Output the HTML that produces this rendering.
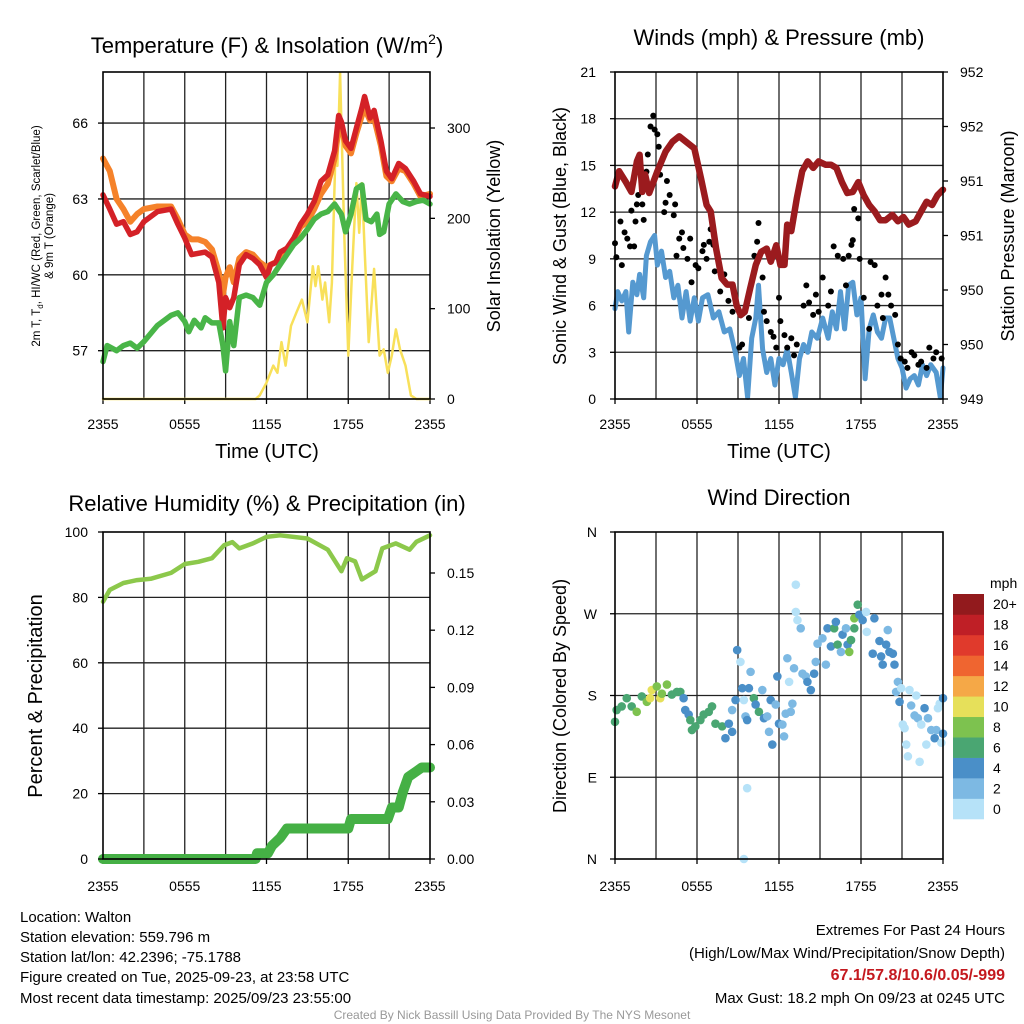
<!DOCTYPE html>
<html><head><meta charset="utf-8">
<style>
html,body{margin:0;padding:0;background:#fff;}
svg{display:block;font-family:"Liberation Sans",Arial,sans-serif;}
</style></head>
<body>
<svg id="chart" width="1024" height="1024" viewBox="0 0 1024 1024" xmlns="http://www.w3.org/2000/svg">
<rect x="0" y="0" width="1024" height="1024" fill="#fff"/>
<text x="267" y="53" font-size="22" text-anchor="middle">Temperature (F) &amp; Insolation (W/m<tspan font-size="14" dy="-9">2</tspan><tspan dy="9">)</tspan></text>
<text x="779" y="45" font-size="22" text-anchor="middle">Winds (mph) &amp; Pressure (mb)</text>
<text x="267" y="511" font-size="22" text-anchor="middle">Relative Humidity (%) &amp; Precipitation (in)</text>
<text x="779" y="505" font-size="22" text-anchor="middle">Wind Direction</text>
<g transform="translate(40,236) rotate(-90)" font-size="11.5" text-anchor="middle">
<text x="0" y="0">2m T, T<tspan font-size="8" dy="3">d</tspan><tspan dy="-3">, HI/WC (Red, Green, Scarlet/Blue)</tspan></text>
<text x="0" y="13">&amp; 9m T (Orange)</text></g>
<text transform="translate(500,236) rotate(-90)" font-size="18" text-anchor="middle">Solar Insolation (Yellow)</text>
<text transform="translate(566,236) rotate(-90)" font-size="18" text-anchor="middle">Sonic Wind &amp; Gust (Blue, Black)</text>
<text transform="translate(1014,236) rotate(-90)" font-size="18" text-anchor="middle">Station Pressure (Maroon)</text>
<text transform="translate(42,696) rotate(-90)" font-size="20" text-anchor="middle">Percent &amp; Precipitation</text>
<text transform="translate(566,696) rotate(-90)" font-size="18" text-anchor="middle">Direction (Colored By Speed)</text>
<text x="267" y="458" font-size="20" text-anchor="middle">Time (UTC)</text>
<text x="779" y="458" font-size="20" text-anchor="middle">Time (UTC)</text>
<g font-size="15">
<text x="20" y="922">Location: Walton</text>
<text x="20" y="942">Station elevation: 559.796 m</text>
<text x="20" y="962">Station lat/lon: 42.2396; -75.1788</text>
<text x="20" y="982">Figure created on Tue, 2025-09-23, at 23:58 UTC</text>
<text x="20" y="1003">Most recent data timestamp: 2025/09/23 23:55:00</text>
</g>
<g font-size="15" text-anchor="end">
<text x="1005" y="935">Extremes For Past 24 Hours</text>
<text x="1005" y="958">(High/Low/Max Wind/Precipitation/Snow Depth)</text>
<text x="1005" y="980" fill="#c4191f" font-weight="bold" font-size="16">67.1/57.8/10.6/0.05/-999</text>
<text x="1005" y="1003">Max Gust: 18.2 mph On 09/23 at 0245 UTC</text>
</g>
<text x="512" y="1019" font-size="12" fill="#999" text-anchor="middle">Created By Nick Bassill Using Data Provided By The NYS Mesonet</text>
</svg>
<script>
// ---- data ----
const xTickLabels=['2355','0555','1155','1755','2355'];
const tempHours=[0,.5,1,1.5,2,2.5,3,4,5,5.5,6,6.5,7,7.5,8,8.5,8.8,9,9.3,9.6,10,10.5,11,11.5,12,12.3,12.7,13,13.5,14,14.5,15,15.5,16,16.5,17,17.3,17.5,17.8,18.2,18.6,19,19.2,19.6,19.9,20.4,20.8,21.2,21.7,22.2,22.8,23.3,24];
const temp2m=[63.16,62.6,62.0,62.1,61.6,61.7,62.1,62.5,62.6,62.0,61.45,60.8,60.85,60.9,60.7,59.7,57.9,59.1,58.7,59.1,60.4,60.8,60.65,60.4,59.9,60.4,60.5,60.9,61.05,61.45,62.0,62.4,62.9,63.7,63.95,64.9,66.3,66.05,65.3,65.0,65.8,66.6,67.05,66.2,66.5,65.3,64.1,63.8,64.4,64.2,63.7,63.2,63.1];
const temp9m=[64.6,64.1,63.0,62.6,62.1,62.4,62.6,62.7,62.7,62.2,61.6,61.4,61.4,61.3,61.0,60.1,59.2,59.9,60.3,59.7,60.65,60.9,60.8,60.5,60.3,60.4,60.5,60.8,61.0,61.4,61.9,62.1,62.6,63.2,63.6,64.6,65.8,65.9,65.1,64.8,65.6,66.3,66.6,66.1,66.2,65.1,63.9,63.7,64.2,64.1,63.6,63.1,63.2];
const dewHours=[0,.3,1,1.5,2,2.5,3,4,5,5.5,6,6.3,6.7,7.2,7.5,8,8.5,8.8,9,9.3,9.6,10,10.5,11,11.5,12,12.5,13,13.5,14,14.5,15,15.5,16,16.5,17,17.5,17.8,18.2,18.6,19,19.3,19.7,20.1,20.3,20.6,21,21.5,22,22.5,23,23.5,24];
const dewpoint=[56.57,57.2,57.0,57.2,57.3,57.1,57.36,58.0,58.4,58.5,58.15,57.75,58.2,57.9,58.3,58.1,58.1,57.2,56.2,58.15,57.2,59.1,59.2,59.1,58.8,59.7,60.0,60.4,60.8,61.2,61.45,61.8,62.2,62.4,62.5,62.8,62.4,61.7,62.4,63.4,63.55,62.2,62.1,62.4,61.6,61.7,62.8,63.2,62.9,62.8,62.9,62.95,62.8];
const solarHours=[0,11.2,11.5,12,12.5,12.8,13.1,13.4,13.8,14.2,14.6,15,15.4,15.6,15.8,16.1,16.3,16.6,16.8,17.1,17.2,17.4,17.7,18.0,18.3,18.6,18.8,19.0,19.2,19.5,19.9,20.3,20.6,20.9,21.2,21.5,21.8,22.2,22.6,23,24];
const solar=[0,0,4,18,37,29,63,37,81,96,110,85,147,125,147,110,129,85,129,295,258,361,184,48,147,239,184,239,166,63,144,48,55,29,48,77,55,37,4,0,0];
const presHours=[0,0.3,0.8,1.2,1.6,1.8,2,2.2,2.5,2.8,3.1,3.4,3.7,4.2,4.7,5.2,5.8,6.3,6.7,7.0,7.4,7.8,8.2,8.6,8.9,9.2,9.5,9.9,10.3,10.7,11.1,11.4,11.8,12.1,12.4,12.6,12.9,13.3,13.7,14.1,14.5,14.9,15.4,15.8,16.2,16.6,17.0,17.4,17.8,18.2,18.6,19.0,19.4,19.8,20.3,20.7,21.1,21.5,22.0,22.4,22.8,23.2,23.6,24];
const pressure=[950.95,951.09,950.99,950.90,951.18,951.24,950.90,951.06,950.89,950.99,951.09,951.18,951.27,951.36,951.41,951.36,951.30,951.02,950.78,950.72,950.38,950.11,950.05,950.05,949.86,949.77,949.80,950.02,950.23,950.35,950.38,950.26,950.41,950.23,950.23,950.60,950.54,950.84,951.09,951.18,951.12,951.18,951.15,951.15,951.12,950.99,950.89,950.90,950.99,950.87,950.78,950.72,950.64,950.64,950.69,950.63,950.67,950.60,950.63,950.72,950.81,950.78,950.87,950.92];
const windHours=[0,.2,.5,.8,1.0,1.3,1.6,1.8,2.1,2.3,2.6,2.9,3.1,3.4,3.7,4.0,4.3,4.6,4.9,5.2,5.5,5.8,6.1,6.4,6.8,7.2,7.6,8.0,8.4,8.8,9.1,9.4,9.7,10.0,10.3,10.5,10.8,11.1,11.4,11.7,12.0,12.3,12.6,12.9,13.2,13.5,13.8,14.1,14.4,14.8,15.2,15.6,15.9,16.2,16.5,16.8,17.1,17.4,17.7,18.0,18.3,18.6,18.9,19.2,19.5,19.8,20.1,20.4,20.7,21.0,21.3,21.6,21.9,22.2,22.5,22.8,23.1,23.5,23.8,24];
const windSpeed=[5.8,6.9,6.3,6.9,4.3,7.5,6.7,8.0,6.5,9.2,10.1,10.5,8.6,9.5,7.8,8.2,6.5,7.3,5.2,6.9,5.0,6.5,5.0,6.5,6.7,5.2,5.6,4.3,4.5,3.0,1.5,2.6,0.1,3.9,5.2,7.3,3.2,1.7,2.6,0.9,2.6,2.2,3.2,1.7,0.1,2.6,3.5,3.0,4.3,3.9,5.2,3.9,5.6,4.5,6.9,4.5,7.3,7.5,5.4,6.5,1.3,4.5,5.4,4.3,3.9,5.2,5.2,3.9,2.6,2.0,0.7,1.3,1.5,0.9,2.2,1.5,2.2,1.7,0.1,2.0];
const gustHours=[0.0,0.1,0.4,0.5,0.7,0.9,1.1,1.2,1.4,1.5,1.6,1.7,2.0,2.1,2.3,2.4,2.6,2.8,2.9,3.1,3.2,3.3,3.6,3.7,3.8,4.0,4.3,4.4,4.5,4.7,4.9,5.0,5.3,5.5,5.6,5.9,6.1,6.4,6.5,6.7,6.9,7.0,7.2,7.3,7.7,8.0,8.3,8.6,9.1,9.3,9.8,10.2,10.4,10.5,10.8,10.9,11.1,11.4,11.6,11.8,12.0,12.1,12.4,12.6,12.9,13.1,13.3,13.8,14.0,14.2,14.5,14.7,14.9,15.2,15.6,15.8,16.0,16.3,16.7,16.9,17.1,17.3,17.4,17.5,17.8,17.9,18.2,18.6,18.7,19.0,19.2,19.5,19.6,19.8,20.0,20.2,20.5,20.7,20.9,21.2,21.4,21.7,21.9,22.2,22.4,22.8,23.0,23.3,23.5,23.9];
const gustSpeed=[10.0,9.1,11.4,8.6,10.7,10.3,9.8,12.1,9.8,11.4,12.5,13.1,12.5,11.5,14.6,15.7,17.5,18.2,17.3,17.0,16.2,14.4,12.0,12.6,14.0,13.1,11.8,12.5,9.2,10.3,10.7,9.7,9.0,10.3,7.5,8.6,8.4,9.5,9.9,9.0,10.1,10.9,9.9,8.2,6.9,8.0,6.3,5.6,3.3,3.5,5.2,9.2,10.1,11.3,7.8,5.6,5.0,4.3,4.0,3.3,6.5,5.0,4.1,3.3,3.9,2.8,3.5,6.0,7.3,6.2,5.4,6.7,5.6,7.8,6.0,6.9,9.8,9.2,9.0,7.3,9.2,9.9,10.2,12.2,11.6,9.0,6.5,4.5,8.8,8.6,6.0,6.7,5.2,7.8,6.7,6.0,5.4,3.5,2.6,2.4,2.0,3.0,2.8,2.2,2.4,2.0,3.3,2.6,3.0,2.6];
const rhHours=[0,.5,1.5,2.5,3.5,5,6,7,8,8.9,9.5,10,11,12,13,15,16.5,17.5,17.9,18.5,19,20,20.5,21.5,22.5,23,24];
const rh=[78.7,82.3,84.4,85.3,85.7,87.5,90.2,90.9,92,96,96.9,95,96.5,98.5,99,98,94.6,88,92,91,85.5,88,95,96.5,94.6,97,99];
const precipHours=[0,11.2,11.3,12.1,12.4,13.0,13.5,18.0,18.2,20.9,21.2,21.7,22.0,22.4,23.0,23.4,24];
const precip=[0,0,0.003,0.003,0.007,0.011,0.016,0.016,0.021,0.021,0.027,0.027,0.035,0.043,0.046,0.048,0.048];
const dirHours=[0,0.12,0.49,0.86,1.22,1.59,1.96,2.33,2.57,2.69,3.06,3.31,3.43,3.80,4.16,4.53,4.78,5.02,5.14,5.39,5.51,5.63,5.88,6.25,6.49,6.86,7.10,7.35,7.84,8.08,8.33,8.57,8.57,8.82,8.94,9.18,9.31,9.43,9.55,9.67,9.67,9.43,9.80,9.92,10.16,10.29,10.53,10.78,10.90,11.14,11.27,11.39,11.51,11.76,11.88,12.0,12.25,12.37,12.49,12.61,12.74,12.86,12.98,13.10,13.23,13.23,13.35,13.59,13.72,13.96,14.08,14.33,14.57,14.69,14.82,15.18,15.43,15.55,15.80,16.04,16.16,16.29,16.53,16.65,16.90,17.02,17.14,17.27,17.51,17.51,17.76,17.88,18.12,18.37,18.42,18.86,18.98,19.35,19.47,19.59,19.84,19.96,20.08,20.33,20.45,20.70,20.57,20.82,20.94,21.06,21.19,21.31,21.43,21.55,21.67,21.92,22.04,22.16,22.29,22.41,22.65,22.78,22.90,23.14,23.39,23.51,23.76,23.88,24.0,24.0,23.63];
const dirDeg=[151,164,168,177,168,162,179,173,177,186,190,177,182,192,181,184,184,177,164,159,153,142,146,153,159,162,168,149,146,133,149,140,164,175,230,217,188,175,157,153,78,0,188,206,177,170,162,186,155,157,140,175,126,170,201,149,148,135,160,221,195,162,171,210,302,272,263,254,204,201,195,186,204,217,237,243,214,254,234,254,261,236,228,247,254,236,228,241,254,265,280,269,263,272,250,226,265,240,223,214,236,252,228,226,214,195,184,173,188,148,144,126,113,186,169,158,180,155,107,148,166,126,155,142,133,142,171,128,138,177,166];
const dirSpeed=[7,7,7,7,7,9,7,9,11,11,9,11,9,9,7,7,7,5,5,5,7,7,7,7,7,7,7,7,7,5,5,5,3,5,5,1,5,1,3,5,1,1,5,3,7,5,7,3,5,3,3,5,5,3,5,5,3,3,3,3,1,3,3,3,1,1,1,3,3,3,5,5,5,3,3,3,3,5,5,7,5,7,3,5,3,5,9,7,7,9,7,5,5,1,1,5,5,5,5,5,5,3,5,5,5,3,3,5,1,1,1,1,1,1,3,3,1,3,1,1,5,1,3,3,5,3,1,1,5,5,1];
const cbLabels=['0','2','4','6','8','10','12','14','16','18','20+'];
const cbColors=['#b6e2f8','#7db9e3','#4a8fc8','#4aa672','#7dc24f','#e6e05a','#f5a847','#ef6530','#e03a2c','#bf1f26','#921a1d'];

// ---- helpers ----
const NS='http://www.w3.org/2000/svg';
const svg=document.getElementById('chart');
function mk(tag,attrs,parent){const e=document.createElementNS(NS,tag);for(const k in attrs)e.setAttribute(k,attrs[k]);(parent||svg).appendChild(e);return e;}
function lin(d0,d1,r0,r1){return v=>r0+(v-d0)*(r1-r0)/(d1-d0);}
function pathFrom(xs,ys,fx,fy){return xs.map((h,i)=>(i?'L':'M')+fx(h).toFixed(1)+','+fy(ys[i]).toFixed(1)).join('');}

function frame(name,x0,x1,y0,y1,hy,labOff){
  const g=mk('g',{});
  
  
  const fx=lin(0,24,x0,x1);
  for(let h=3;h<24;h+=3){const l=mk('line',{x1:fx(h),x2:fx(h),y1:y0,y2:y1,stroke:'#222','stroke-width':1.3},g);
    
    }
  hy.forEach(y=>{const l=mk('line',{x1:x0,x2:x1,y1:y,y2:y,stroke:'#222','stroke-width':1.3},g);
    
    });
  const tg=mk('g',{'font-size':14,'text-anchor':'middle'});
  
  
  xTickLabels.forEach((t,i)=>{const tx=mk('text',{x:fx(i*6),y:y1+labOff},tg);tx.textContent=t;
    
    
    const tk=mk('line',{x1:fx(i*6),x2:fx(i*6),y1:y1,y2:y1+5,stroke:'#000','stroke-width':1.3},tg);
    
    });
  return {fx,g};
}
function border(name,x0,x1,y0,y1){const r=mk('rect',{x:x0,y:y0,width:x1-x0,height:y1-y0,fill:'none',stroke:'#000','stroke-width':1.6});
  
  }
function yLabels(name,vals,texts,fy,x,anchor,tickX,dir){
  const g=mk('g',{'font-size':14,'text-anchor':anchor});
  
  
  vals.forEach((v,i)=>{const t=mk('text',{x:x,y:fy(v)+5},g);t.textContent=texts[i];
    
    
    const k=mk('line',{x1:tickX,x2:tickX+dir*5,y1:fy(v),y2:fy(v),stroke:'#000','stroke-width':1.3},g);
    
    });
}
function line(name,xs,ys,fx,fy,color,w){const p=mk('path',{d:pathFrom(xs,ys,fx,fy),fill:'none',stroke:color,'stroke-width':w,'stroke-linejoin':'round','stroke-linecap':'round'});
  
  return p;}

// ---- Panel 1: temperature ----
(function(){
  const x0=103,x1=430,y0=72,y1=399;
  const fy=lin(55.09,68.02,y1,y0), fs=lin(0,362,y1,y0);
  const tVals=[57,60,63,66];
  const {fx}=frame('temperature',x0,x1,y0,y1,tVals.map(fy),30);
  line('solar-insolation-line',solarHours,solar,fx,fs,'#f8e05a',2.5);
  line('temp-9m-line',tempHours,temp9m,fx,fy,'#f5822a',6);
  line('temp-2m-line',tempHours,temp2m,fx,fy,'#d42127',5.5);
  line('dewpoint-line',dewHours,dewpoint,fx,fy,'#49b548',5.5);
  border('temperature',x0,x1,y0,y1);
  yLabels('temperature-y-axis',tVals,tVals.map(String),fy,88,'end',x0,-1);
  const sVals=[0,100,200,300];
  yLabels('solar-y-axis',sVals,sVals.map(String),fs,447,'start',x1,1);
})();

// ---- Panel 2: winds ----
(function(){
  const x0=615,x1=943,y0=72,y1=399;
  const fy=lin(0,21,y1,y0), fp=lin(949,952,y1,y0);
  const wVals=[0,3,6,9,12,15,18,21];
  const {fx}=frame('winds',x0,x1,y0,y1,wVals.slice(1,7).map(fy),30);
  line('wind-speed-line',windHours,windSpeed,fx,fy,'#5599d0',5);
  const gg=mk('g',{fill:'#000'});
  
  
  gustHours.forEach((h,i)=>{const c=mk('circle',{cx:fx(h),cy:fy(gustSpeed[i]),r:3},gg);
    
    });
  line('pressure-line',presHours,pressure,fx,fp,'#9b1b1e',6.5);
  border('winds',x0,x1,y0,y1);
  yLabels('wind-y-axis',wVals,wVals.map(String),fy,596,'end',x0,-1);
  const pVals=[949,949.5,950,950.5,951,951.5,952];
  yLabels('pressure-y-axis',pVals,pVals.map(v=>String(Math.round(v))),fp,960,'start',x1,1);
})();

// ---- Panel 3: humidity & precip ----
(function(){
  const x0=103,x1=430,y0=532,y1=859;
  const fy=lin(0,100,y1,y0), fp=lin(0,0.1715,y1,y0);
  const rVals=[0,20,40,60,80,100];
  const {fx}=frame('humidity',x0,x1,y0,y1,[20,40,60,80].map(fy),32);
  line('relative-humidity-line',rhHours,rh,fx,fy,'#8cc84b',4.5);
  line('precipitation-line',precipHours,precip,fx,fp,'#45b045',10);
  border('humidity',x0,x1,y0,y1);
  yLabels('humidity-y-axis',rVals,rVals.map(String),fy,88,'end',x0,-1);
  const pVals=[0,0.03,0.06,0.09,0.12,0.15];
  yLabels('precip-y-axis',pVals,pVals.map(v=>v.toFixed(2)),fp,447,'start',x1,1);
})();

// ---- Panel 4: wind direction ----
(function(){
  const x0=615,x1=943,y0=532,y1=859;
  const fy=lin(0,360,y1,y0);
  const dVals=[0,90,180,270,360], dTexts=['N','E','S','W','N'];
  const {fx}=frame('direction',x0,x1,y0,y1,[90,180,270].map(fy),32);
  const g=mk('g',{});
  
  
  dirHours.forEach((h,i)=>{const ci=Math.min(10,Math.floor(dirSpeed[i]/2));
    const c=mk('circle',{cx:fx(h),cy:fy(dirDeg[i]),r:4.3,fill:cbColors[ci]},g);
    
    });
  border('direction',x0,x1,y0,y1);
  yLabels('direction-y-axis',dVals,dTexts,fy,597,'end',x0,-1);
  // colorbar
  const cb=mk('g',{'font-size':14});
  
  
  const t=mk('text',{x:990,y:588},cb);t.textContent='mph';
  
  
  const top=594,bh=225/11;
  cbLabels.forEach((lab,i)=>{const y=top+(10-i)*bh;
    const r=mk('rect',{x:953,y:y,width:31,height:bh+0.3,fill:cbColors[i]},cb);
    
    
    const tx=mk('text',{x:993,y:y+bh/2+5},cb);tx.textContent=lab;
    
    });
})();
</script>
</body></html>
